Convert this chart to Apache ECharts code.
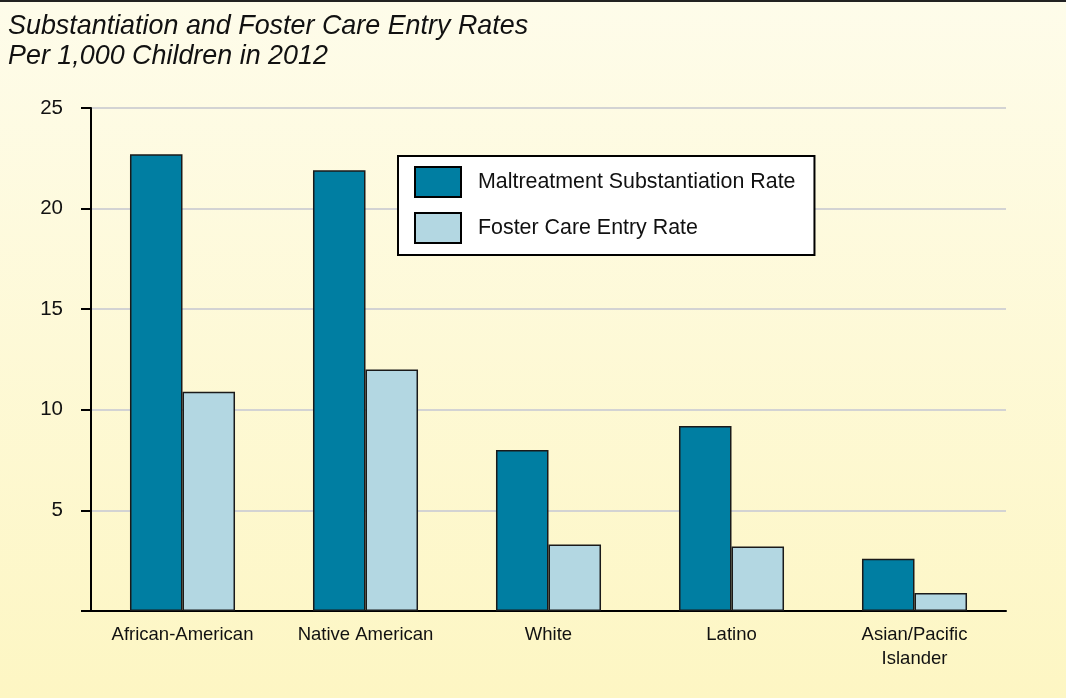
<!DOCTYPE html>
<html>
<head>
<meta charset="utf-8">
<script src="https://cdn.jsdelivr.net/npm/echarts@6/dist/echarts.min.js"></script>
<style>
html,body{margin:0;padding:0;}
body{width:1066px;height:698px;background:linear-gradient(to bottom,#fefcea 0%,#fdf6c3 100%);}
#top{position:absolute;left:0;top:0;width:1066px;height:2px;background:#222;}
#c{width:1066px;height:698px;}
</style>
</head>
<body>
<div id="top"></div>
<div id="c"></div>
<script>
var categories = ['African-American', 'Native American', 'White', 'Latino', 'Asian/Pacific\nIslander'];
var substantiation = [22.7, 21.9, 8.0, 9.2, 2.6];
var fosterEntry = [10.9, 12.0, 3.3, 3.2, 0.9];
var seriesNames = ['Maltreatment Substantiation Rate', 'Foster Care Entry Rate'];
var titleLines = ['Substantiation and Foster Care Entry Rates', 'Per 1,000 Children in 2012'];

var FONT = '"Liberation Sans", Arial, Helvetica, sans-serif';
var chart = echarts.init(document.getElementById('c'), null, {renderer: 'canvas'});
chart.setOption({
  backgroundColor: 'transparent',
  animation: false,
  title: {
    text: titleLines.join('\n'),
    left: 3, top: 7,
    textStyle: {fontFamily: FONT, fontStyle: 'italic', fontWeight: 'normal', fontSize: 26.9, color: '#111', lineHeight: 30}
  },
  legend: {
    orient: 'vertical',
    left: 398, top: 156,
    padding: [10, 19, 11, 16],
    backgroundColor: '#fff',
    borderColor: '#000',
    borderWidth: 2,
    icon: 'rect',
    itemWidth: 46,
    itemHeight: 30,
    itemGap: 14,
    textStyle: {fontFamily: FONT, fontSize: 21.4, color: '#111', padding: [0, 0, 0, 12]},
    itemStyle: {borderColor: '#000', borderWidth: 2},
    data: seriesNames
  },
  grid: {left: 91, right: 60, top: 108, bottom: 87, containLabel: false},
  xAxis: {
    type: 'category',
    data: categories,
    axisLine: {lineStyle: {color: '#000', width: 2}},
    axisTick: {show: false},
    axisLabel: {fontFamily: FONT, fontSize: 18.5, color: '#111', margin: 12, lineHeight: 24, interval: 0}
  },
  yAxis: {
    type: 'value',
    min: 0, max: 25, interval: 5,
    axisLine: {show: true, lineStyle: {color: '#000', width: 2}},
    axisTick: {show: true, length: 10, lineStyle: {color: '#000', width: 2}},
    axisLabel: {fontFamily: FONT, fontSize: 20.5, color: '#111', margin: 28,
      formatter: function (v) { return v === 0 ? '' : String(v); }},
    splitLine: {lineStyle: {color: '#d3d3d3', width: 2}}
  },
  series: [
    {name: seriesNames[0], type: 'bar', data: substantiation, barWidth: '28.7%', barGap: '0%',
      itemStyle: {color: '#007ea2', borderColor: '#1a1a1a', borderWidth: 1.5}},
    {name: seriesNames[1], type: 'bar', data: fosterEntry, barWidth: '28.7%', barGap: '0%',
      itemStyle: {color: '#b3d7e2', borderColor: '#1a1a1a', borderWidth: 1.5}}
  ]
});
</script>
</body>
</html>
